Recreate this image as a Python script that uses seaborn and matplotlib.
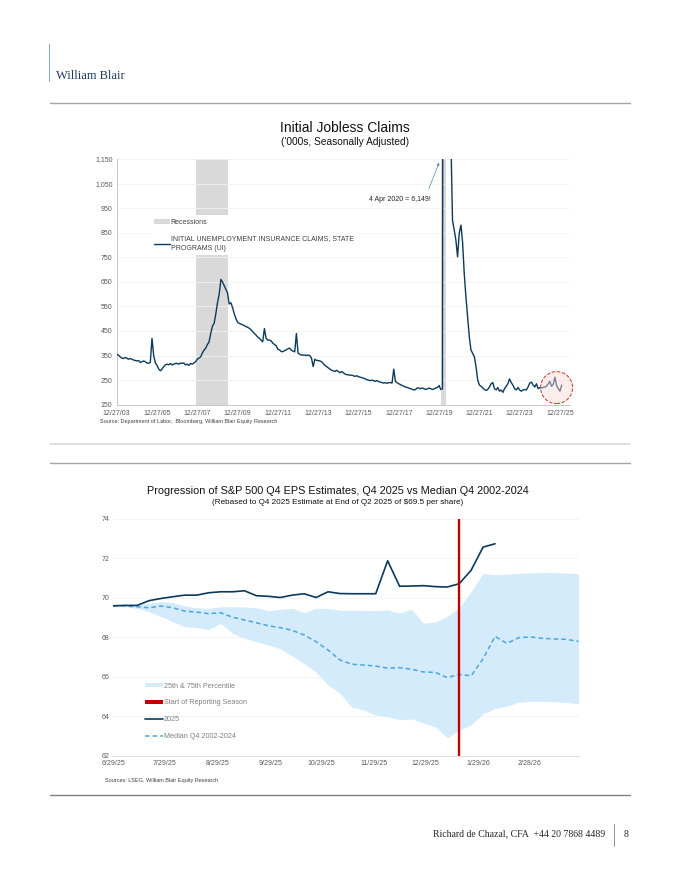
import matplotlib
matplotlib.use("Agg")
import matplotlib.pyplot as plt
import seaborn as sns
import numpy as np
import pandas as pd
import matplotlib.ticker as mticker
from matplotlib.lines import Line2D
from matplotlib.patches import Patch

# ---- chart 1 data: initial jobless claims ('000s, SA), monthly readings ----
claims_start = "2003-12-27"
claims = [
    355,                                                          # 2003-12
    352, 345, 340, 338, 342, 340, 335, 338, 335, 332, 330, 328,   # 2004
    330, 322, 325, 328, 325, 320, 318, 322, 420, 350, 320, 310,   # 2005
    295, 288, 295, 305, 312, 315, 312, 318, 312, 315, 318, 318,   # 2006
    315, 320, 318, 320, 312, 315, 310, 318, 315, 320, 325, 335,   # 2007
    340, 345, 360, 372, 380, 395, 405, 440, 470, 481, 520, 565,   # 2008
    600, 660, 650, 635, 620, 605, 560, 565, 545, 520, 500, 485,   # 2009
    481, 478, 475, 472, 468, 465, 461, 455, 447, 440, 433, 425,   # 2010
    420, 412, 406, 460, 420, 413, 413, 410, 400, 395, 390, 375,   # 2011
    373, 366, 366, 370, 373, 378, 380, 372, 368, 365, 440, 360,   # 2012
    355, 352, 352, 352, 350, 352, 350, 340, 305, 335, 330, 330,   # 2013
    328, 325, 318, 310, 305, 300, 295, 290, 288, 285, 290, 285,   # 2014
    280, 285, 280, 275, 272, 272, 270, 270, 268, 265, 268, 264,   # 2015
    262, 260, 258, 255, 252, 250, 248, 250, 248, 245, 248, 244,   # 2016
    242, 240, 238, 240, 237, 240, 240, 238, 295, 245, 240, 235,   # 2017
    232, 228, 225, 222, 220, 218, 215, 213, 210, 212, 218, 218,   # 2018
    215, 218, 215, 212, 214, 218, 215, 212, 214, 218, 220, 228,   # 2019
    212, 215, 6149, 4200, 2500, 1500, 1250, 900, 861, 820, 752, 848,  # 2020
    881, 807, 685, 590, 508, 427, 373, 359, 345, 305, 250, 230,   # 2021
    225, 218, 212, 208, 212, 222, 235, 240, 215, 210, 220, 205,   # 2022
    210, 200, 215, 225, 235, 255, 240, 230, 215, 210, 220, 210,   # 2023
    205, 210, 212, 210, 222, 238, 242, 230, 222, 235, 215, 220,   # 2024
    218, 220, 222, 225, 235, 245, 225, 232, 262, 228, 215, 205,   # 2025
    230,                                                          # 2026-01
]
recessions = [("2007-12-01", "2009-06-30"), ("2020-02-01", "2020-04-30")]
claims_ticks = ["2003-12-27", "2005-12-27", "2007-12-27", "2009-12-27", "2011-12-27",
                "2013-12-27", "2015-12-27", "2017-12-27", "2019-12-27", "2021-12-27",
                "2023-12-27", "2025-12-27"]
claims_tick_labels = ["12/27/03", "12/27/05", "12/27/07", "12/27/09", "12/27/11", "12/27/13",
                      "12/27/15", "12/27/17", "12/27/19", "12/27/21", "12/27/23", "12/27/25"]

# ---- chart 2 data: S&P 500 Q4 EPS estimate progression (weekly) ----
eps_start = "2025-06-29"
eps_2025 = [69.58, 69.60, 69.60, 69.84, 69.95, 70.04, 70.12, 70.12, 70.24, 70.29,
            70.29, 70.34, 70.09, 70.06, 70.00, 70.12, 70.19, 70.00, 70.29, 70.20,
            70.19, 70.19, 70.19, 71.86, 70.57, 70.58, 70.60, 70.55, 70.53, 70.70,
            71.38, 72.55, 72.72]
eps_median = [69.58, 69.57, 69.53, 69.48, 69.57, 69.48, 69.31, 69.26, 69.18, 69.23,
              69.00, 68.86, 68.72, 68.57, 68.47, 68.34, 68.10, 67.76, 67.34, 66.84,
              66.62, 66.58, 66.53, 66.42, 66.45, 66.37, 66.23, 66.21, 65.94, 66.11,
              66.03, 66.90, 68.03, 67.68, 67.97, 68.00, 67.93, 67.90, 67.88, 67.78]
eps_p75 = [69.60, 69.62, 69.65, 69.70, 69.79, 69.74, 69.57, 69.48, 69.45, 69.53,
           69.53, 69.52, 69.48, 69.33, 69.40, 69.45, 69.23, 69.45, 69.45, 69.35,
           69.35, 69.35, 69.33, 69.37, 69.21, 69.41, 68.70, 68.75, 69.05, 69.47,
           70.30, 71.22, 71.15, 71.19, 71.22, 71.25, 71.27, 71.27, 71.24, 71.20]
eps_p25 = [69.58, 69.53, 69.45, 69.28, 69.03, 68.77, 68.52, 68.47, 68.38, 68.69,
           68.19, 67.93, 67.76, 67.60, 67.40, 67.05, 66.65, 66.22, 65.57, 65.15,
           64.45, 64.30, 64.05, 63.95, 63.82, 63.85, 63.65, 63.45, 62.90, 63.28,
           63.55, 64.12, 64.38, 64.50, 64.70, 64.75, 64.75, 64.73, 64.68, 64.63]
season_start = "2026-01-18"
eps_ticks = ["2025-06-29", "2025-07-29", "2025-08-29", "2025-09-29", "2025-10-29",
             "2025-11-29", "2025-12-29", "2026-01-29", "2026-02-28"]
eps_tick_labels = ["6/29/25", "7/29/25", "8/29/25", "9/29/25", "10/29/25",
                   "11/29/25", "12/29/25", "1/29/26", "2/28/26"]

NAVY = "#0b3a5c"
BAND = "#d4ebfb"
MEDIAN = "#4ba6dd"
RED = "#c00000"
GREY_TXT = "#595959"

W, H = 680, 880


def fx(x):
    return x / W


def fy(y):
    return 1 - y / H


sns.set_theme(style="white")
plt.rcParams["font.family"] = ["Liberation Sans", "DejaVu Sans"]

fig = plt.figure(figsize=(W / 100, H / 100), dpi=100)

# page furniture
fig.add_artist(Line2D([fx(49), fx(49)], [fy(44), fy(81)], color="#8fa9c0", lw=0.8))
fig.text(fx(56), fy(76), "William Blair", family=["Liberation Serif"], fontsize=9,
         color="#1f3a5f", va="center", ha="left")
for y, c, lw in [(103, "#a6a6a6", 1.0), (444, "#d9d9d9", 1.2), (463, "#a6a6a6", 1.0),
                 (795, "#7f7f7f", 1.0)]:
    fig.add_artist(Line2D([fx(50), fx(630)], [fy(y), fy(y)], color=c, lw=lw))
fig.text(fx(605), fy(834), "Richard de Chazal, CFA  +44 20 7868 4489", family=["Liberation Serif"],
         fontsize=7, color="#262626", ha="right", va="center")
fig.add_artist(Line2D([fx(614), fx(614)], [fy(824), fy(846)], color="#7f7f7f", lw=0.6))
fig.text(fx(624), fy(834), "8", family=["Liberation Serif"], fontsize=7, color="#262626",
         ha="left", va="center")

# ---------------- chart 1 ----------------
dates1 = pd.date_range(claims_start, periods=len(claims), freq=pd.DateOffset(months=1))
df1 = pd.DataFrame({"date": dates1, "claims": claims})

ax1 = fig.add_axes([fx(116.7), fy(404.7), (570 - 116.7) / W, (404.7 - 159) / H])
for a, b in recessions:
    ax1.axvspan(pd.Timestamp(a), pd.Timestamp(b), color="#d9d9d9", lw=0, zorder=0)
sns.lineplot(data=df1, x="date", y="claims", ax=ax1, color=NAVY, lw=1.0, zorder=3)
ax1.set_ylim(150, 1150)
ax1.set_xlim(pd.Timestamp(claims_start), pd.Timestamp("2026-06-27"))
ax1.set_yticks(np.arange(150, 1151, 100))
ax1.yaxis.set_major_formatter(mticker.StrMethodFormatter("{x:,.0f}"))
ax1.set_xticks(pd.to_datetime(claims_ticks))
ax1.set_xticklabels(claims_tick_labels)
ax1.set_xlabel("")
ax1.set_ylabel("")
ax1.grid(axis="y", color="#f2f2f2", lw=0.6)
ax1.tick_params(axis="both", labelsize=5, colors=GREY_TXT, length=2, width=0.5, pad=1.5)
ax1.tick_params(axis="y", length=0, pad=3)
for s in ["top", "right"]:
    ax1.spines[s].set_visible(False)
for s in ["left", "bottom"]:
    ax1.spines[s].set_color("#bfbfbf")
    ax1.spines[s].set_linewidth(0.6)

# call-out for the April 2020 peak, which sits far above the axis
peak_date = dates1[int(np.argmax(claims))]
ax1.annotate("", xy=(peak_date - pd.DateOffset(months=3), 1135),
             xytext=(peak_date - pd.DateOffset(months=9), 1030),
             arrowprops=dict(arrowstyle="-|>", color="#4f8ca6", lw=0.5, mutation_scale=4,
                             shrinkA=0, shrinkB=0))
ax1.text(peak_date - pd.DateOffset(months=8), 985, "4 Apr 2020 = 6,149!", fontsize=5,
         color="#262626", ha="right", va="center")
ax1.scatter([dates1[-4]], [np.mean(claims[-4:])], s=530, facecolor=(0.98, 0.85, 0.85, 0.45),
            edgecolor="#c0392b", linestyle="--", lw=0.7, zorder=4, clip_on=False)

h1 = [Patch(color="#d9d9d9", lw=0),
      Line2D([0], [0], color=NAVY, lw=1.0)]
l1 = ["Recessions", "INITIAL UNEMPLOYMENT INSURANCE CLAIMS, STATE\nPROGRAMS (UI)"]
leg1 = ax1.legend(h1, l1, loc="upper left", bbox_to_anchor=(0.068, 0.785), fontsize=5,
                  frameon=True, facecolor="white", edgecolor="none", framealpha=1,
                  handlelength=2.2, handleheight=0.6, labelspacing=1.4, borderpad=0.5,
                  handletextpad=0.15, labelcolor="#404040")
for t in leg1.get_texts():
    t.set_linespacing(1.5)
leg1.set_zorder(5)

fig.text(fx(345), fy(128), "Initial Jobless Claims", fontsize=10, color="#111111",
         ha="center", va="center")
fig.text(fx(345), fy(142), "('000s, Seasonally Adjusted)", fontsize=7.3, color="#111111",
         ha="center", va="center")
fig.text(fx(100), fy(422), "Source: Department of Labor,  Bloomberg, William Blair Equity Research",
         fontsize=4, color="#404040", ha="left", va="center")

# ---------------- chart 2 ----------------
dates2 = pd.date_range(eps_start, periods=len(eps_median), freq="7D")
df_band = pd.DataFrame({"date": dates2, "p25": eps_p25, "p75": eps_p75, "median": eps_median})
df_2025 = pd.DataFrame({"date": dates2[:len(eps_2025)], "eps": eps_2025})

ax2 = fig.add_axes([fx(113.3), fy(755.5), (578.5 - 113.3) / W, (755.5 - 518.5) / H])
ax2.fill_between(df_band["date"], df_band["p25"], df_band["p75"], color=BAND, lw=0, zorder=1)
sns.lineplot(data=df_band, x="date", y="median", ax=ax2, color=MEDIAN, lw=1.1,
             linestyle=(0, (3, 2)), zorder=3)
sns.lineplot(data=df_2025, x="date", y="eps", ax=ax2, color=NAVY, lw=1.2, zorder=4)
ax2.axvline(pd.Timestamp(season_start), color=RED, lw=1.7, zorder=5)
ax2.set_ylim(62, 74)
ax2.set_xlim(pd.Timestamp(eps_start), dates2[-1])
ax2.set_yticks(np.arange(62, 75, 2))
ax2.set_xticks(pd.to_datetime(eps_ticks))
ax2.set_xticklabels(eps_tick_labels)
ax2.set_xlabel("")
ax2.set_ylabel("")
ax2.grid(axis="y", color="#f2f2f2", lw=0.6)
ax2.tick_params(axis="both", labelsize=5, colors=GREY_TXT, length=0, pad=3)
for s in ["top", "right", "left"]:
    ax2.spines[s].set_visible(False)
ax2.spines["bottom"].set_color("#d9d9d9")
ax2.spines["bottom"].set_linewidth(0.6)

h2 = [Patch(color=BAND, lw=0),
      Patch(color=RED, lw=0),
      Line2D([0], [0], color=NAVY, lw=1.2),
      Line2D([0], [0], color=MEDIAN, lw=1.1, linestyle=(0, (3, 2)))]
l2 = ["25th & 75th Percentile", "Start of Reporting Season", "2025", "Median Q4 2002-2024"]
ax2.legend(h2, l2, loc="upper left", bbox_to_anchor=(0.055, 0.335), fontsize=5.2,
           frameon=False, handlelength=2.4, handleheight=0.45, labelspacing=1.35,
           handletextpad=0.2, labelcolor="#808080")

fig.text(fx(338), fy(491), "Progression of S&P 500 Q4 EPS Estimates, Q4 2025 vs Median Q4 2002-2024",
         fontsize=7.8, color="#111111", ha="center", va="center")
fig.text(fx(338), fy(503), "(Rebased to Q4 2025 Estimate at End of Q2 2025 of $69.5 per share)",
         fontsize=5.9, color="#111111", ha="center", va="center")
fig.text(fx(105), fy(780), "Sources: LSEG, William Blair Equity Research",
         fontsize=4, color="#404040", ha="left", va="center")

fig.savefig("out.png", dpi=100, facecolor="white")
